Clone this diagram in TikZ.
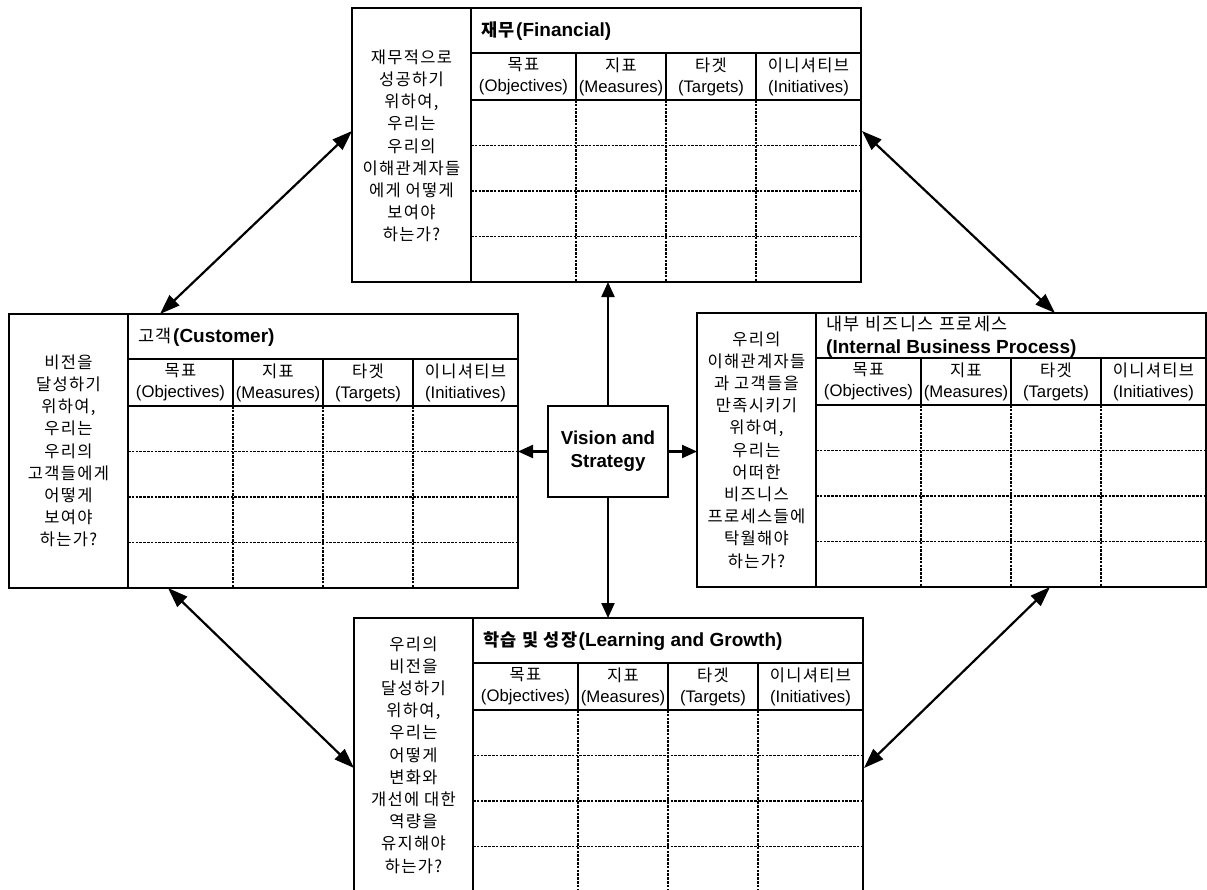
\documentclass[tikz,border=0pt]{standalone}
\usepackage{fontspec}
\setmainfont{Liberation Sans}
\newfontfamily\kr[LetterSpace=8]{Noto Sans CJK KR}
\usetikzlibrary{arrows.meta,calc}

\tikzset{
 frame/.style={draw, line width=1.8bp, minimum width=509bp, minimum height=274bp, inner sep=0pt, outer sep=0pt},
 solidln/.style={line width=1.4bp},
 dotln/.style={line width=1.5bp, dash pattern=on 2.5bp off 1.3bp},
 hdr/.style={align=center, font=\fontsize{16.7bp}{21bp}\selectfont, inner sep=0pt},
 ques/.style={align=center, font=\kr\fontsize{16.5bp}{22.2bp}\selectfont, inner sep=0pt},
 ttl/.style={anchor=west, align=left, inner sep=0pt, font=\fontsize{19bp}{23bp}\selectfont},
 visbox/.style={draw, line width=1.8bp, minimum width=120bp, minimum height=91bp, align=center, font=\bfseries\fontsize{18.7bp}{23bp}\selectfont, inner sep=0pt},
 darrow/.style={line width=2.2bp, {Triangle[length=20bp,width=14bp]}-{Triangle[length=20bp,width=14bp]}},
 carrow/.style={line width=2.2bp, -{Triangle[length=15bp,width=13bp]}},
}

\newcommand\krh[1]{{\kr\fontsize{16.5bp}{21bp}\selectfont #1}}
\newcommand\krt[1]{{\kr\fontsize{17.5bp}{23bp}\selectfont #1}}

\newcommand\bscframe[3]{%
  \node[frame, anchor=north west] (#1) at (#2,-#3) {};
  \draw[solidln] ({#2+119},{-#3}) -- ({#2+119},{-#3-274});
  \draw[solidln] ({#2+119},{-#3-45}) -- ({#2+509},{-#3-45});
  \draw[solidln] ({#2+119},{-#3-92}) -- ({#2+509},{-#3-92});
  \foreach \ri in {1,2,3} {\draw[dotln] ({#2+119},{-#3-92-45.5*\ri}) -- ({#2+509},{-#3-92-45.5*\ri});}
  \foreach \ci in {224,314,404} {%
    \draw[solidln] ({#2+\ci},{-#3-45}) -- ({#2+\ci},{-#3-92});
    \draw[dotln] ({#2+\ci},{-#3-92}) -- ({#2+\ci},{-#3-274});}
  \node[hdr] (#1-h1) at ({#2+171.5},{-#3-68.5}) {\krh{목표}\\(Objectives)};
  \node[hdr] (#1-h2) at ({#2+269},{-#3-68.5}) {\krh{지표}\\(Measures)};
  \node[hdr] (#1-h3) at ({#2+359},{-#3-68.5}) {\krh{타겟}\\(Targets)};
  \node[hdr] (#1-h4) at ({#2+456.5},{-#3-68.5}) {\krh{이니셔티브}\\(Initiatives)};
}

\begin{document}
\begin{tikzpicture}[x=1bp,y=1bp]
\useasboundingbox (0,0) rectangle (1207,-890);
\clip (0,0) rectangle (1207,-890);
\fill[white] (0,0) rectangle (1207,-890);

% frames
\bscframe{fin}{352}{8}
\bscframe{cust}{9}{314}
\bscframe{int}{697}{313}
\bscframe{learn}{354}{618}

% titles
\node[ttl] (fin-t) at (481,-31.5) {\krt{\bfseries 재무}\textbf{(Financial)}};
\node[ttl] (cust-t) at (138,-337.5) {\krt{고객}\textbf{(Customer)}};
\node[ttl] (int-t) at (826,-336.5) {\krt{내부 비즈니스 프로세스}\\\textbf{(Internal Business Process)}};
\node[ttl] (learn-t) at (483,-641.5) {\krt{\bfseries 학습 및 성장}\textbf{(Learning and Growth)}};

% questions
\node[ques] (fin-q) at (411.5,-146) {재무적으로\\성공하기\\위하여,\\우리는\\우리의\\이해관계자들\\에게 어떻게\\보여야\\하는가?};
\node[ques] (cust-q) at (68.5,-451) {비전을\\달성하기\\위하여,\\우리는\\우리의\\고객들에게\\어떻게\\보여야\\하는가?};
\node[ques] (int-q) at (756.5,-450) {우리의\\이해관계자들\\과 고객들을\\만족시키기\\위하여,\\우리는\\어떠한\\비즈니스\\프로세스들에\\탁월해야\\하는가?};
\node[ques] (learn-q) at (413.5,-755) {우리의\\비전을\\달성하기\\위하여,\\우리는\\어떻게\\변화와\\개선에 대한\\역량을\\유지해야\\하는가?};

% vision box
\node[visbox, fill=white] (vis) at (608,-451.5) {Vision and\\Strategy};

% center arrows
\draw[carrow] (vis.north) -- (vis.north |- fin.south);
\draw[carrow] (vis.south) -- (vis.south |- learn.north);
\draw[carrow] (vis.west) -- (vis.west -| cust.east);
\draw[carrow] (vis.east) -- (vis.east -| int.west);

% diagonal arrows
\coordinate (fin-w) at (352,-131);
\coordinate (fin-e) at (862,-131);
\coordinate (cust-n) at (160,-314);
\coordinate (int-n) at (1055,-313);
\coordinate (cust-s) at (168,-588);
\coordinate (int-s) at (1050,-587);
\coordinate (learn-w) at (354,-768);
\coordinate (learn-e) at (864,-768);
\draw[darrow] (fin-w) -- (cust-n);
\draw[darrow] (fin-e) -- (int-n);
\draw[darrow] (cust-s) -- (learn-w);
\draw[darrow] (int-s) -- (learn-e);
\end{tikzpicture}
\end{document}
